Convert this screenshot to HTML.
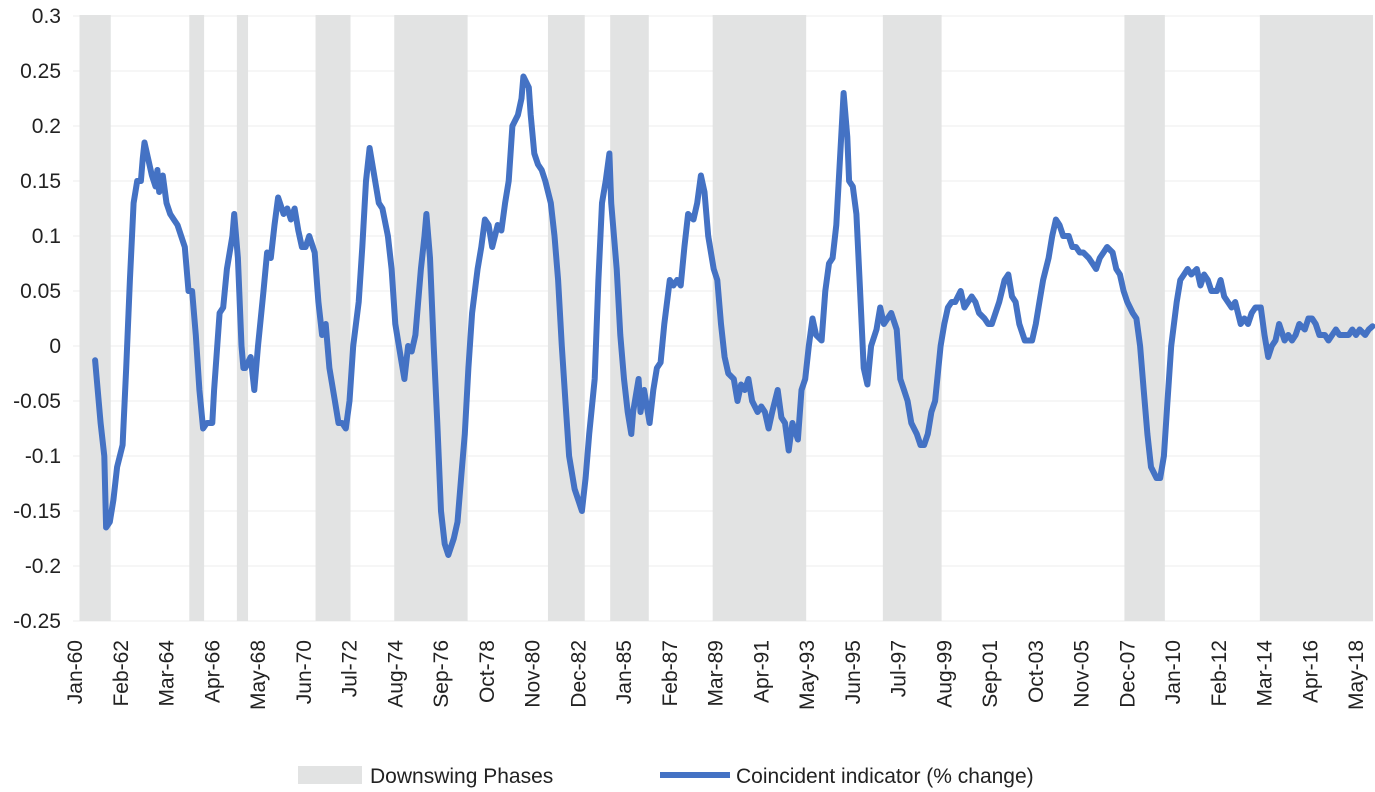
<!DOCTYPE html>
<html><head><meta charset="utf-8"><style>
html,body{margin:0;padding:0;background:#fff;}
svg{display:block;font-family:"Liberation Sans",sans-serif;}
</style></head><body>
<svg id="chart" width="1375" height="792" viewBox="0 0 1375 792" xmlns="http://www.w3.org/2000/svg">
<g id="grid"></g>
<g id="bands"></g>
<g id="series"></g>
<g id="yaxis"></g>
<g id="xaxis"></g>
<g>
  <rect x="298" y="766" width="64" height="18" fill="#e2e3e3"/>
  <text x="370" y="783" font-size="21" fill="#222">Downswing Phases</text>
  <line x1="660" y1="775" x2="730" y2="775" stroke="#4472c4" stroke-width="6"/>
  <text x="736" y="783" font-size="21" fill="#222">Coincident indicator (% change)</text>
</g>
</svg>
<script>
// months since Jan-1960
const bandStarts = [3,63,89,132,175,259,293,349,442,574,648];
const bandEnds   = [19,70,94,150,214,278,313,399,473,595,709];
const months = [11,14,16,17,19,21,23,26,28,30,32,34,36,37,38,40,42,44,45,46,48,50,52,54,56,60,62,64,66,68,70,72,75,76,79,81,83,86,87,89,91,92,93,96,98,100,103,105,107,109,111,114,116,118,120,122,124,126,128,131,133,135,137,139,142,144,146,148,150,152,155,157,159,161,163,166,168,171,173,175,178,180,182,184,186,189,191,192,194,196,198,200,202,204,207,209,211,213,215,217,220,222,224,226,228,231,233,235,237,239,242,244,245,248,249,251,253,255,257,260,262,264,266,268,270,273,275,277,279,281,284,286,288,290,292,293,296,298,300,302,304,305,308,309,311,314,316,318,320,322,325,327,329,331,333,335,338,340,342,344,346,349,351,353,355,357,360,362,364,366,368,370,373,375,377,379,381,384,386,388,390,392,395,397,399,401,403,405,408,410,412,414,416,419,420,422,423,425,427,429,431,433,435,438,440,442,444,446,449,451,453,455,457,460,462,464,466,468,470,473,475,477,479,481,484,486,488,490,492,494,497,499,501,503,505,508,510,512,514,516,519,521,523,525,527,529,532,534,536,538,540,543,545,547,549,551,554,556,558,560,562,564,567,569,571,573,575,578,580,582,584,586,588,591,593,595,597,599,602,604,606,608,610,613,615,617,619,621,624,626,628,630,632,634,637,639,641,643,645,648,650,652,654,656,658,661,663,665,667,669,672,674,676,678,680,683,685,687,689,691,694,696,698,700,702,705,707,709];
const values = [-0.013,-0.07,-0.1,-0.165,-0.16,-0.14,-0.11,-0.09,-0.02,0.06,0.13,0.15,0.15,0.17,0.185,0.17,0.155,0.145,0.16,0.14,0.155,0.13,0.12,0.115,0.11,0.09,0.05,0.05,0.01,-0.04,-0.075,-0.07,-0.07,-0.04,0.03,0.035,0.07,0.1,0.12,0.08,0.0,-0.02,-0.02,-0.01,-0.04,0.0,0.05,0.085,0.08,0.11,0.135,0.12,0.125,0.115,0.125,0.105,0.09,0.09,0.1,0.085,0.04,0.01,0.02,-0.02,-0.05,-0.07,-0.07,-0.075,-0.05,0.0,0.04,0.09,0.15,0.18,0.16,0.13,0.125,0.1,0.07,0.02,-0.01,-0.03,0.0,-0.005,0.01,0.07,0.1,0.12,0.08,0.0,-0.07,-0.15,-0.18,-0.19,-0.175,-0.16,-0.12,-0.08,-0.02,0.03,0.07,0.09,0.115,0.11,0.09,0.11,0.105,0.13,0.15,0.2,0.21,0.225,0.245,0.235,0.21,0.175,0.165,0.16,0.15,0.13,0.1,0.06,0.0,-0.05,-0.1,-0.13,-0.14,-0.15,-0.12,-0.08,-0.03,0.06,0.13,0.15,0.175,0.13,0.07,0.01,-0.03,-0.06,-0.08,-0.06,-0.03,-0.06,-0.04,-0.07,-0.04,-0.02,-0.015,0.02,0.06,0.055,0.06,0.055,0.09,0.12,0.115,0.13,0.155,0.14,0.1,0.07,0.06,0.02,-0.01,-0.025,-0.03,-0.05,-0.035,-0.04,-0.03,-0.05,-0.06,-0.055,-0.06,-0.075,-0.06,-0.04,-0.065,-0.07,-0.095,-0.07,-0.085,-0.04,-0.03,0.0,0.025,0.01,0.005,0.05,0.075,0.08,0.11,0.2,0.23,0.19,0.15,0.145,0.12,0.05,-0.02,-0.035,0.0,0.015,0.035,0.02,0.025,0.03,0.015,-0.03,-0.04,-0.05,-0.07,-0.08,-0.09,-0.09,-0.08,-0.06,-0.05,0.0,0.02,0.035,0.04,0.04,0.05,0.035,0.04,0.045,0.04,0.03,0.025,0.02,0.02,0.03,0.04,0.06,0.065,0.045,0.04,0.02,0.005,0.005,0.005,0.02,0.04,0.06,0.08,0.1,0.115,0.11,0.1,0.1,0.09,0.09,0.085,0.085,0.08,0.075,0.07,0.08,0.085,0.09,0.085,0.07,0.065,0.05,0.04,0.03,0.025,0.0,-0.04,-0.08,-0.11,-0.12,-0.12,-0.1,-0.05,0.0,0.04,0.06,0.065,0.07,0.065,0.07,0.055,0.065,0.06,0.05,0.05,0.06,0.045,0.04,0.035,0.04,0.02,0.025,0.02,0.03,0.035,0.035,0.01,-0.01,0.0,0.005,0.02,0.005,0.01,0.005,0.01,0.02,0.015,0.025,0.025,0.02,0.01,0.01,0.005,0.01,0.015,0.01,0.01,0.01,0.015,0.01,0.015,0.01,0.015,0.018];
const yTicks = [0.3,0.25,0.2,0.15,0.1,0.05,0,-0.05,-0.1,-0.15,-0.2,-0.25];
const yTickLabels = ["0.3","0.25","0.2","0.15","0.1","0.05","0","-0.05","-0.1","-0.15","-0.2","-0.25"];
const xTickMonths = [0,25,50,75,100,125,150,175,200,225,250,275,300,325,350,375,400,425,450,475,500,525,550,575,600,625,650,675,700];
const xTickLabels = ["Jan-60","Feb-62","Mar-64","Apr-66","May-68","Jun-70","Jul-72","Aug-74","Sep-76","Oct-78","Nov-80","Dec-82","Jan-85","Feb-87","Mar-89","Apr-91","May-93","Jun-95","Jul-97","Aug-99","Sep-01","Oct-03","Nov-05","Dec-07","Jan-10","Feb-12","Mar-14","Apr-16","May-18"];

const NS="http://www.w3.org/2000/svg";
const PL=73, PR=1373;
function xs(m){return 75+1.83*m;}
function ys(v){return 16+(0.3-v)*1100;}
function mk(tag,parent,attrs){const e=document.createElementNS(NS,tag);for(const k in attrs)e.setAttribute(k,attrs[k]);parent.appendChild(e);return e;}

const grid=document.getElementById('grid');
yTicks.forEach((t,i)=>{
  const l=mk('line',grid,{x1:PL,x2:PR,y1:ys(t),y2:ys(t),stroke:'#ececec','stroke-width':1});
  
  
});
const bands=document.getElementById('bands');
bandStarts.forEach((s,i)=>{
  const x0=Math.max(PL,xs(s)-1), x1=Math.min(PR,xs(bandEnds[i])+1);
  const r=mk('rect',bands,{x:x0,y:ys(0.3)-1,width:x1-x0,height:ys(-0.25)-ys(0.3)+1,fill:'#e2e3e3'});
  
  
});
const series=document.getElementById('series');
let d='';
months.forEach((m,i)=>{d+=(i?'L':'M')+xs(m).toFixed(1)+' '+ys(values[i]).toFixed(1);});
const p=mk('path',series,{d:d,fill:'none',stroke:'#4472c4','stroke-width':6,'stroke-linejoin':'round','stroke-linecap':'round'});



const ya=document.getElementById('yaxis');
yTicks.forEach((t,i)=>{
  const tx=mk('text',ya,{x:61,y:ys(t)+7,'text-anchor':'end','font-size':21,fill:'#222'});
  tx.textContent=yTickLabels[i];
  
  
});
const xa=document.getElementById('xaxis');
xTickMonths.forEach((m,i)=>{
  const x=xs(m)+7, y=640;
  const tx=mk('text',xa,{x:x,y:y,'text-anchor':'end','font-size':21,fill:'#222',transform:`rotate(-90 ${x} ${y})`});
  tx.textContent=xTickLabels[i];
  
  
});
</script>
</body></html>
